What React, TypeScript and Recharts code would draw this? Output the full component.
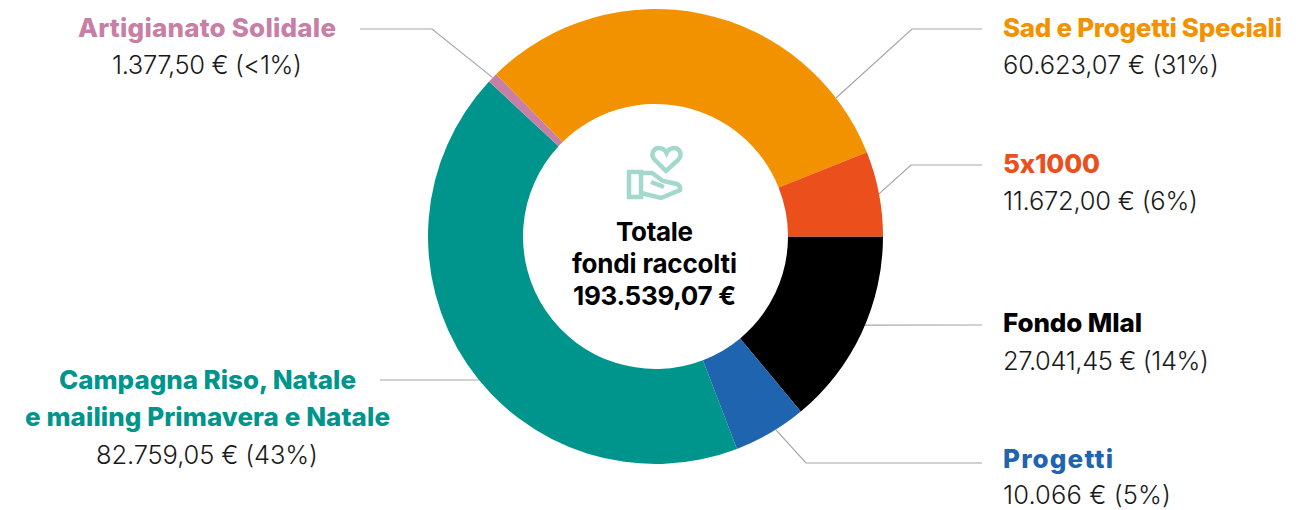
import { PieChart, Pie, Cell } from 'recharts';

const names = [
  'Fondo Mlal',
  'Progetti',
  'Campagna Riso, Natale\ne mailing Primavera e Natale',
  'Artigianato Solidale',
  'Sad e Progetti Speciali',
  '5x1000',
];
const amounts = [27041.45, 10066, 82759.05, 1377.5, 60623.07, 11672];
const valueLabels = [
  '27.041,45 € (14%)',
  '10.066 € (5%)',
  '82.759,05 € (43%)',
  '1.377,50 € (<1%)',
  '60.623,07 € (31%)',
  '11.672,00 € (6%)',
];
const colors = ['#000000', '#1f64ae', '#00958c', '#c87fa5', '#f39200', '#eb4f1c'];

const data = names.map((name, i) => ({ name, value: amounts[i] }));

// where each callout sits: angle on the ring, leader line, text position and measured widths
const callouts = [
  { angle: 22.9, line: [[982, 325]], nameAt: [[1003, 332, 139]], valueAt: [1003, 370, 206], anchor: 'start' },
  { angle: 58.1, line: [[806, 463], [982, 463]], nameAt: [[1003, 468, 110]], valueAt: [1003, 504, 168], anchor: 'start' },
  { angle: 140.9, line: [[380, 380]], nameAt: [[356, 389, 297], [390, 426, 365]], valueAt: [207, 464, 222], anchor: 'end' },
  { angle: 224.3, line: [[432, 29], [360, 29]], nameAt: [[336, 37, 258]], valueAt: [207, 74, 190], anchor: 'end' },
  { angle: -37.5, line: [[912, 29], [982, 29]], nameAt: [[1003, 37, 279]], valueAt: [1003, 74, 216], anchor: 'start' },
  { angle: -10.8, line: [[911, 165], [982, 165]], nameAt: [[1003, 173, 97]], valueAt: [1003, 210, 195], anchor: 'start' },
];

const FONT = 'Inter, sans-serif';
const noLigatures = { fontVariantLigatures: 'none', fontFeatureSettings: '"calt" 0, "liga" 0' };

function Callout(props: any) {
  const { cx, cy, outerRadius, index } = props;
  const c = callouts[index];
  const rad = (c.angle * Math.PI) / 180;
  const start = [cx + outerRadius * Math.cos(rad), cy + outerRadius * Math.sin(rad)];
  const pts = [start, ...c.line].map((p) => p.join(',')).join(' ');
  const lines = names[index].split('\n');
  return (
    <g>
      <polyline points={pts} fill="none" stroke="#a6a6a6" strokeWidth={1.2} />
      {lines.map((t, i) => (
        <text
          key={t}
          x={c.nameAt[i][0]}
          y={c.nameAt[i][1]}
          textLength={c.nameAt[i][2]}
          textAnchor={c.anchor}
          fontFamily={FONT}
          fontWeight={800}
          fontSize={26}
          fill={colors[index]}
          style={noLigatures}
        >
          {t}
        </text>
      ))}
      <text
        x={c.valueAt[0]}
        y={c.valueAt[1]}
        textLength={c.valueAt[2]}
        textAnchor={c.anchor === 'end' ? 'middle' : 'start'}
        fontFamily={FONT}
        fontWeight={300}
        fontSize={25.5}
        fill="#1a1a1a"
        style={noLigatures}
      >
        {valueLabels[index]}
      </text>
    </g>
  );
}

function HandIcon() {
  return (
    <g fill="none" stroke="#a3d9cb" strokeWidth={4.5} strokeLinejoin="miter">
      <path d="M666 171 L655 160 C650 155 653 148 659 148 C662 148 665 150 666.5 153 C668 150 671 148 674 148 C680 148 683 155 678 160 Z" />
      <rect x={629} y={172} width={12} height={25} />
      <path d="M641 173 L652 173 L663 181 L677 184 Q681 186 680 190 L661 198 L641 193" />
      <path d="M651 182 L664 187" />
    </g>
  );
}

export default function App() {
  return (
    <div style={{ position: 'absolute', left: 0, top: 0, width: 1303, height: 510 }}>
      <PieChart width={1303} height={510} margin={{ top: 0, right: 0, bottom: 0, left: 0 }}>
        <Pie
          data={data}
          dataKey="value"
          nameKey="name"
          cx={655.5}
          cy={236.5}
          innerRadius={132.5}
          outerRadius={227.5}
          startAngle={0}
          endAngle={-360}
          stroke="none"
          isAnimationActive={false}
          label={Callout}
          labelLine={false}
        >
          {data.map((d, i) => (
            <Cell key={d.name} fill={colors[i]} />
          ))}
        </Pie>
        <HandIcon />
        <g fontFamily={FONT} fontWeight={700} fontSize={26} fill="#000" textAnchor="middle">
          <text x={654.5} y={241} textLength={77}>Totale</text>
          <text x={654.5} y={273} textLength={165}>fondi raccolti</text>
          <text x={654.5} y={305} textLength={163}>193.539,07 €</text>
        </g>
      </PieChart>
    </div>
  );
}
